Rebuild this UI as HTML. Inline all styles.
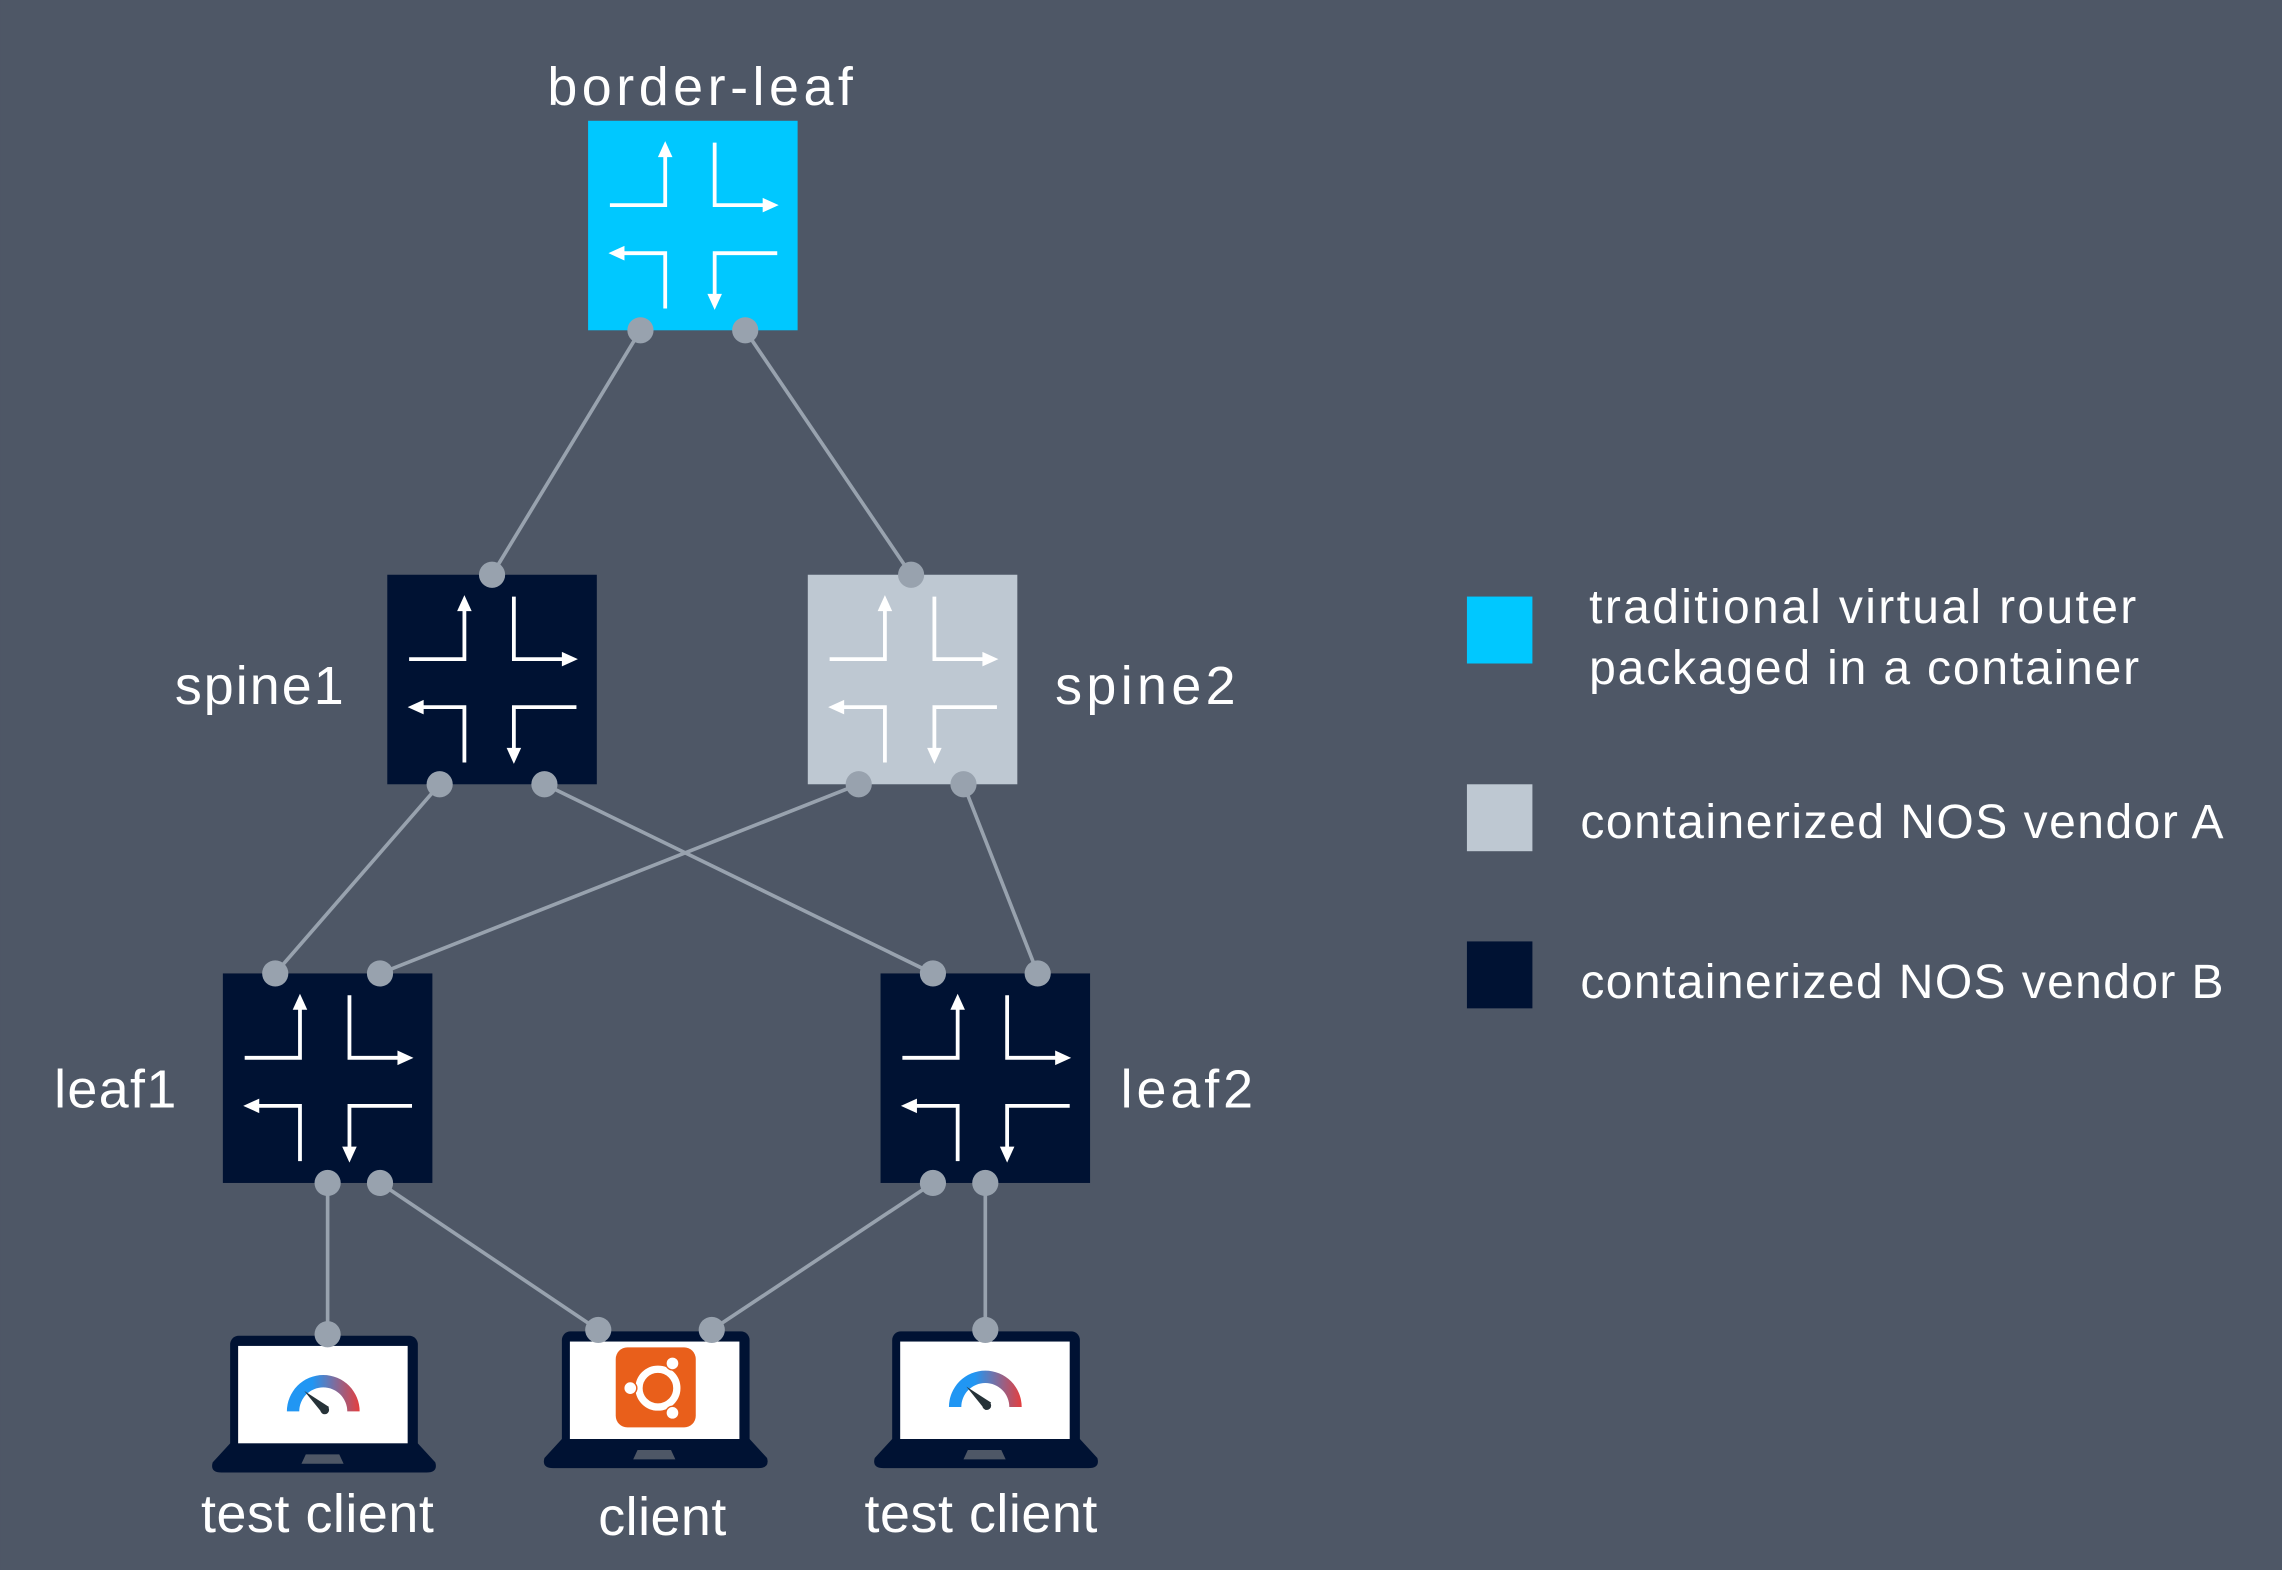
<!DOCTYPE html>
<html><head><meta charset="utf-8"><style>
html,body{margin:0;padding:0;background:#4e5766;}
svg{display:block;}
text{font-family:"Liberation Sans",sans-serif;fill:#fff;}
</style></head><body>
<svg width="2282" height="1570" viewBox="0 0 1568 1079" xmlns="http://www.w3.org/2000/svg">
<defs>
<g id="ico" fill="none" stroke="#fff" stroke-width="2.6">
<path d="M15 58H53V19"/><path d="M87 15V58H126"/><path d="M53 129V91H19"/><path d="M130 91H87V125"/>
<polygon points="53,14 48,25 58,25" fill="#fff" stroke="none"/>
<polygon points="131,58 120,53 120,63" fill="#fff" stroke="none"/>
<polygon points="14,91 25,86 25,96" fill="#fff" stroke="none"/>
<polygon points="87,130 82,119 92,119" fill="#fff" stroke="none"/>
</g>
<linearGradient id="gg" x1="0" x2="1" y1="0" y2="0"><stop offset="0" stop-color="#2196f3"/><stop offset="0.35" stop-color="#2196f3"/><stop offset="1" stop-color="#e53e3e"/></linearGradient>
<g id="lap">
<rect x="158" y="918" width="129" height="80" rx="6" fill="#001233"/>
<rect x="163.5" y="925" width="116.5" height="67" fill="#fff"/>
<path d="M158 992H287L299 1005Q301 1012 293 1012H152Q144 1012 146 1005Z" fill="#001233"/>
<path d="M210 999.5H233L236 1006H207Z" fill="#4e5766"/>
</g>
</defs>
<rect width="1568" height="1079" fill="#4e5766"/>
<g stroke="#98a2ae" stroke-width="2.5">
<line x1="440" y1="227" x2="338" y2="395"/><line x1="512" y1="227" x2="626" y2="395"/>
<line x1="302" y1="539" x2="189" y2="669"/><line x1="374" y1="539" x2="641" y2="669"/>
<line x1="590" y1="539" x2="261" y2="669"/><line x1="662" y1="539" x2="713" y2="669"/>
<line x1="225" y1="813" x2="225" y2="917"/><line x1="261" y1="813" x2="411" y2="914"/>
<line x1="641" y1="813" x2="489" y2="914"/><line x1="677" y1="813" x2="677" y2="914"/>
</g>
<rect x="404" y="83" width="144" height="144" fill="#00c8ff"/><use href="#ico" x="404" y="83"/>
<rect x="266" y="395" width="144" height="144" fill="#001233"/><use href="#ico" x="266" y="395"/>
<rect x="555" y="395" width="144" height="144" fill="#bec8d2"/><use href="#ico" x="555" y="395"/>
<rect x="153" y="669" width="144" height="144" fill="#001233"/><use href="#ico" x="153" y="669"/>
<rect x="605" y="669" width="144" height="144" fill="#001233"/><use href="#ico" x="605" y="669"/>
<use href="#lap"/>
<use href="#lap" x="228" y="-3"/>
<use href="#lap" x="455" y="-3"/>
<g>
<path d="M197 970A25 25 0 0 1 247 970H238.5A16.5 16.5 0 0 0 205.5 970Z" fill="url(#gg)"/>
<path d="M209 956L226 967L222 972Z" fill="#263238"/><circle cx="223" cy="969" r="3" fill="#263238"/>
</g>
<g transform="translate(455,-3)">
<path d="M197 970A25 25 0 0 1 247 970H238.5A16.5 16.5 0 0 0 205.5 970Z" fill="url(#gg)"/>
<path d="M209 956L226 967L222 972Z" fill="#263238"/><circle cx="223" cy="969" r="3" fill="#263238"/>
</g>
<rect x="423" y="926" width="55" height="55" rx="8" fill="#e95f1b"/>
<circle cx="452" cy="954" r="13" fill="none" stroke="#fff" stroke-width="5"/>
<circle cx="433" cy="954" r="5" fill="#e95f1b"/><circle cx="433" cy="954" r="4" fill="#fff"/>
<circle cx="462" cy="937" r="5" fill="#e95f1b"/><circle cx="462" cy="937" r="4" fill="#fff"/>
<circle cx="462" cy="971" r="5" fill="#e95f1b"/><circle cx="462" cy="971" r="4" fill="#fff"/>
<g fill="#98a2ae">
<circle cx="440" cy="227" r="9"/><circle cx="512" cy="227" r="9"/>
<circle cx="338" cy="395" r="9"/><circle cx="302" cy="539" r="9"/><circle cx="374" cy="539" r="9"/>
<circle cx="626" cy="395" r="9"/><circle cx="590" cy="539" r="9"/><circle cx="662" cy="539" r="9"/>
<circle cx="189" cy="669" r="9"/><circle cx="261" cy="669" r="9"/><circle cx="225" cy="813" r="9"/><circle cx="261" cy="813" r="9"/>
<circle cx="641" cy="669" r="9"/><circle cx="713" cy="669" r="9"/><circle cx="641" cy="813" r="9"/><circle cx="677" cy="813" r="9"/>
<circle cx="225" cy="917" r="9"/><circle cx="411" cy="914" r="9"/><circle cx="489" cy="914" r="9"/><circle cx="677" cy="914" r="9"/>
</g>
<g font-size="37">
<text x="376" y="72" textLength="210">border-leaf</text>
<text x="120" y="484" textLength="116">spine1</text>
<text x="725" y="484" textLength="124">spine2</text>
<text x="37" y="761" textLength="84">leaf1</text>
<text x="770" y="761" textLength="91">leaf2</text>
<text x="138" y="1053" textLength="160">test client</text>
<text x="411" y="1055" textLength="88">client</text>
<text x="594" y="1053" textLength="160">test client</text>
</g>
<rect x="1008" y="410" width="45" height="46" fill="#00c8ff"/>
<rect x="1008" y="539" width="45" height="46" fill="#bec8d2"/>
<rect x="1008" y="647" width="45" height="46" fill="#001233"/>
<g font-size="33">
<text x="1092" y="428" textLength="376">traditional virtual router</text>
<text x="1092" y="470" textLength="378">packaged in a container</text>
<text x="1086" y="576" textLength="442">containerized NOS vendor A</text>
<text x="1086" y="686" textLength="442">containerized NOS vendor B</text>
</g>
</svg>
</body></html>
